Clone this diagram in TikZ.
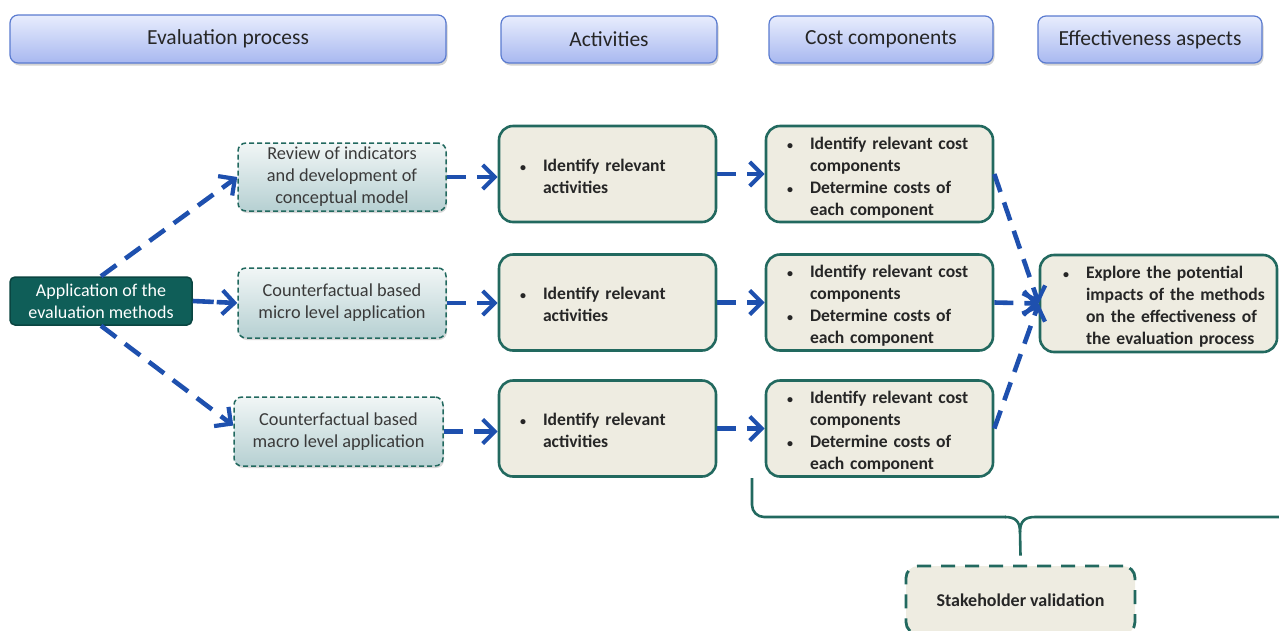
\documentclass[tikz,border=0pt]{standalone}
\usepackage{fontspec}
\setmainfont{Carlito}
\usetikzlibrary{arrows.meta,shadows,calc}

\definecolor{hdtop}{HTML}{E8EDFD}
\definecolor{hdbot}{HTML}{A8B8F0}
\definecolor{hdline}{HTML}{5A7BD0}
\definecolor{teal}{HTML}{22695F}
\definecolor{appfill}{HTML}{0F5E58}
\definecolor{appline}{HTML}{0A4541}
\definecolor{lttop}{HTML}{F1F6F6}
\definecolor{ltbot}{HTML}{B6D0D2}
\definecolor{beige}{HTML}{EEECE1}
\definecolor{arrblue}{HTML}{1E50AE}
\definecolor{txt}{HTML}{262626}
\definecolor{txtl}{HTML}{3A3A3A}

% bullet and bulleted list used inside the boxes
\newcommand\bl{\makebox[23pt][l]{\fontsize{12}{12}\selectfont\textbullet}}
\newcommand\blist[1]{\raisebox{-4pt}[\height][\depth]{\begin{tabular}{@{}l@{}l@{}}#1\end{tabular}}}

\tikzset{
  header/.style={draw=hdline, line width=1.2pt, rounded corners=8pt,
    top color=hdtop, bottom color=hdbot, text=txt,
    font=\fontsize{21.5}{24}\selectfont,
    drop shadow={shadow xshift=1.5pt, shadow yshift=-2.5pt, opacity=0.35}},
  appbox/.style={draw=appline, line width=1.5pt, rounded corners=5pt,
    fill=appfill, text=white, align=center,
    font=\fontsize{18}{22}\selectfont},
  methbox/.style={draw=teal, line width=1.5pt, dash pattern=on 5pt off 3pt,
    rounded corners=8pt, top color=lttop, bottom color=ltbot, text=txtl,
    align=center, font=\fontsize{18.3}{22}\selectfont,
    drop shadow={shadow xshift=1pt, shadow yshift=-2pt, opacity=0.3}},
  stepbox/.style={draw=teal, line width=2.6pt, rounded corners=14pt,
    fill=beige, text=txt, align=left,
    font=\bfseries\fontsize{17.6}{22}\selectfont},
  valbox/.style={draw=teal, line width=2.8pt, dash pattern=on 14pt off 10pt,
    rounded corners=12pt, fill=beige, text=txt,
    font=\bfseries\fontsize{18}{22}\selectfont},
  arr/.style={draw=arrblue, line width=4.6pt, dash pattern=on 19pt off 11pt,
    -{Straight Barb[length=12pt,width=24pt,line width=4.2pt]}},
  brace/.style={draw=teal, line width=2.6pt}
}

\begin{document}
\begin{tikzpicture}[x=1pt,y=-1pt]
\useasboundingbox (0,0) rectangle (1279,630);
\clip (0,0) rectangle (1279,630);

% column headers
\node[header, minimum width=436pt, minimum height=48pt] (h1) at (228,39) {Evaluation process};
\node[header, minimum width=216pt, minimum height=47pt] (h2) at (609,39.5) {Activities};
\node[header, minimum width=224pt, minimum height=47pt] (h3) at (881,39.5) {Cost components};
\node[header, minimum width=224pt, minimum height=47pt] (h4) at (1150,39.5) {Effectiveness aspects};

% evaluation process
\node[appbox, minimum width=182pt, minimum height=48pt] (app) at (101,301)
  {Application of the\\evaluation methods};
\node[methbox, minimum width=208pt, minimum height=68pt] (rev) at (342,177)
  {Review of indicators\\and development of\\conceptual model};
\node[methbox, minimum width=208pt, minimum height=70pt] (mic) at (342,303)
  {Counterfactual based\\micro level application};
\node[methbox, minimum width=209pt, minimum height=69pt] (mac) at (338.5,431.5)
  {Counterfactual based\\macro level application};

% activities
\foreach \n/\y in {a1/174, a2/302.5, a3/428.5}{
  \node[stepbox, minimum width=217pt, minimum height=96pt, text width=175pt] (\n) at (607.5,\y)
    {\blist{\bl & Identify relevant\\ & activities}};
}

% cost components
\foreach \n/\y in {c1/174, c2/302.5, c3/428.5}{
  \node[stepbox, minimum width=227pt, minimum height=96pt, text width=185pt] (\n) at (879.5,\y)
    {\blist{\bl & Identify relevant cost\\ & components\\
      \bl & Determine costs of\\ & each component}};
}

% effectiveness
\node[stepbox, minimum width=237pt, minimum height=97pt, text width=191pt] (eff) at (1158.5,303.5)
  {\blist{\bl & Explore the potential\\ & impacts of the methods\\
    & on the effectiveness of\\ & the evaluation process}};

% stakeholder validation
\node[valbox, minimum width=229pt, minimum height=68pt] (stk) at (1020.5,600) {Stakeholder validation};

% connectors
\draw[arr] (app.north) -- (rev.west);
\draw[arr, dash pattern=on 21pt off 3pt] (app.east) -- (mic.west);
\draw[arr] (app.south) -- ($(mac.west)+(0,-6)$);

\draw[arr] (rev.east) -- (rev.east -| a1.west);
\draw[arr] (mic.east) -- (mic.east -| a2.west);
\draw[arr] (mac.east) -- (mac.east -| a3.west);

\draw[arr] (a1.east) -- (c1.west);
\draw[arr] (a2.east) -- (c2.west);
\draw[arr] (a3.east) -- (c3.west);

\draw[arr] (c1.east) -- (eff.west);
\draw[arr] (c2.east) -- (eff.west);
\draw[arr] (c3.east) -- (eff.west);

% brace gathering the cost components towards the validation step
\coordinate (bl) at (752,478);
\coordinate (br) at (1279,517);
\coordinate (tip) at ($(stk.north)+(0,-9)$);
\draw[brace, rounded corners=12pt] (bl) -- (752,517) -- (1006,517);
\draw[brace] (1005,517) .. controls (1015,517) and (1020,521) .. (1020,532) -- (tip);
\draw[brace] (br) -- (1035,517) .. controls (1025,517) and (1020,521) .. (1020,532);
\end{tikzpicture}
\end{document}
